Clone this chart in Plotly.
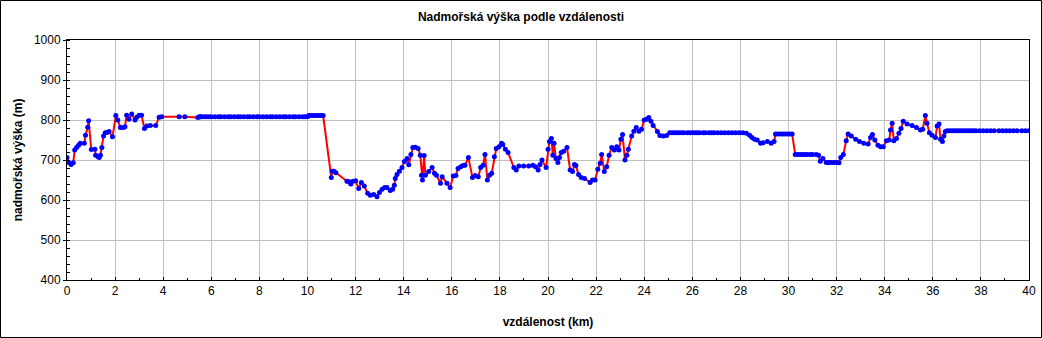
import plotly.graph_objects as go

# distance (km)
distance_km = [
    0.0, 0.07, 0.17, 0.26, 0.32, 0.40, 0.48, 0.55, 0.72, 0.77, 0.86, 0.90,
    1.01, 1.16, 1.19, 1.29, 1.34, 1.39, 1.45, 1.52, 1.59, 1.66, 1.75, 1.89,
    2.03, 2.11, 2.22, 2.34, 2.41, 2.48, 2.58, 2.69, 2.83, 2.90, 3.00, 3.10,
    3.22, 3.32, 3.46, 3.69, 3.83, 3.94, 4.66, 4.90, 5.44,
    5.50, 5.55, 5.60, 5.70, 5.80, 5.90, 6.00, 6.15, 6.30, 6.40, 6.55, 6.70,
    6.80, 6.95, 7.10, 7.20, 7.35, 7.50, 7.60, 7.75, 7.90, 8.00, 8.15, 8.30,
    8.45, 8.55, 8.70, 8.85, 9.00, 9.10, 9.25, 9.40, 9.50, 9.65, 9.80, 9.90,
    10.00, 10.05, 10.15, 10.25, 10.35, 10.45, 10.55, 10.65,
    10.99, 11.03, 11.10, 11.18, 11.64, 11.71, 11.80, 11.89, 12.00, 12.13,
    12.24, 12.36, 12.50, 12.61, 12.75, 12.89, 12.99, 13.10, 13.21, 13.30,
    13.44, 13.54, 13.61, 13.65, 13.72, 13.82, 13.93, 14.03, 14.14, 14.21,
    14.30, 14.38, 14.49, 14.60, 14.69, 14.74, 14.78, 14.85, 14.90, 15.04,
    15.18, 15.28, 15.36, 15.53, 15.60, 15.80, 15.93,
    16.06, 16.17, 16.26, 16.37, 16.47, 16.55, 16.69, 16.86, 16.97, 17.10,
    17.20, 17.30, 17.38, 17.48, 17.57, 17.66, 17.77, 17.85, 17.96, 18.07,
    18.12, 18.23, 18.34, 18.58, 18.68, 18.79, 18.99, 19.20, 19.37, 19.48,
    19.59, 19.67, 19.75, 19.92, 20.00, 20.06, 20.14, 20.20, 20.25, 20.33,
    20.41, 20.48, 20.55, 20.65, 20.79, 20.92, 21.02, 21.10, 21.16, 21.27,
    21.38, 21.52, 21.75, 21.85, 21.96, 22.07, 22.17, 22.23, 22.34, 22.44,
    22.54, 22.65, 22.76, 22.86, 22.95, 23.03, 23.10, 23.20, 23.28, 23.34,
    23.48, 23.57, 23.67, 23.78, 23.89, 24.00, 24.10, 24.19, 24.28, 24.37,
    24.55, 24.65, 24.79, 24.93, 25.06,
    25.15, 25.25, 25.35, 25.45, 25.55, 25.65, 25.80, 25.90, 26.00, 26.10,
    26.20, 26.30, 26.45, 26.55, 26.70, 26.80, 26.90, 27.05, 27.20, 27.35,
    27.50, 27.65, 27.80, 27.95, 28.10,
    28.25, 28.38, 28.48, 28.59, 28.70, 28.84, 28.94, 29.12, 29.28, 29.40,
    29.46, 29.55, 29.65, 29.75, 29.85, 29.95, 30.05, 30.15,
    30.28, 30.38, 30.48, 30.58, 30.68, 30.78, 30.90, 31.00, 31.15,
    31.25, 31.32, 31.43, 31.57, 31.65, 31.72, 31.80, 31.90, 32.00, 32.10,
    32.17, 32.28, 32.40, 32.48, 32.61, 32.79, 32.95, 33.13, 33.31, 33.41,
    33.49, 33.59, 33.72, 33.83, 33.94, 34.07, 34.19, 34.24, 34.31, 34.38,
    34.49, 34.59, 34.68, 34.77, 34.93, 35.14, 35.32, 35.49, 35.58, 35.69,
    35.76, 35.86, 35.97, 36.11, 36.18, 36.26, 36.32, 36.40, 36.46, 36.52,
    36.59, 36.70, 36.80, 36.90, 37.00, 37.10, 37.20, 37.30, 37.40, 37.50,
    37.60, 37.70, 37.80, 37.95, 38.10, 38.25, 38.40, 38.55, 38.75, 38.90,
    39.05, 39.20, 39.35, 39.50, 39.70, 39.85, 40.00,
]

# elevation (m)
elevation_m = [
    706, 694, 689, 693, 725, 731, 737, 742, 742, 762, 782, 798,
    726, 727, 712, 708, 706, 712, 731, 760, 768, 769, 771, 758,
    811, 800, 781, 781, 783, 812, 802, 815, 800, 807, 812, 812,
    779, 785, 786, 786, 807, 808, 808, 808, 806,
    808, 808, 808, 808, 808, 808, 808, 808, 808, 808, 808, 808,
    808, 808, 808, 808, 808, 808, 808, 808, 808, 808, 808, 808,
    808, 808, 808, 808, 808, 808, 808, 808, 808, 808, 808, 808,
    808, 811, 811, 811, 811, 811, 811, 811,
    656, 672, 672, 668, 647, 646, 640, 647, 648, 629,
    644, 635, 617, 612, 614, 608, 619, 627, 631, 631,
    624, 627, 637, 654, 664, 672, 681, 696, 704, 688,
    714, 731, 732, 729, 712, 662, 650, 711, 662, 671,
    681, 667, 662, 642, 658, 642, 631,
    660, 661, 679, 683, 686, 687, 706, 656, 661, 658,
    681, 687, 714, 650, 662, 667, 708, 729, 733, 742,
    739, 727, 719, 681, 675, 685, 685, 685, 687, 683,
    675, 689, 700, 681, 727, 746, 754, 712, 742, 704,
    694, 706, 719, 722, 731, 675, 671, 689, 686, 664,
    656, 654, 644, 650, 650, 677, 692, 714, 671, 683,
    712, 731, 725, 733, 725, 752, 764, 700, 712, 727,
    760, 772, 781, 772, 777, 800, 802, 806, 797, 786,
    771, 761, 760, 761, 768,
    768, 768, 768, 768, 768, 768, 768, 768, 768, 768,
    768, 768, 768, 768, 768, 768, 768, 768, 768, 768,
    768, 768, 768, 768, 768,
    767, 762, 756, 752, 750, 742, 743, 746, 742, 746,
    765, 765, 765, 765, 765, 765, 765, 765,
    714, 714, 714, 714, 714, 714, 714, 714, 714,
    712, 697, 704, 694, 694, 694, 694, 694, 694, 693,
    706, 714, 748, 765, 760, 752, 746, 742, 740, 756,
    764, 750, 737, 733, 733, 748, 750, 775, 792, 748,
    754, 767, 779, 797, 790, 786, 781, 775, 777, 811,
    792, 768, 762, 756, 785, 790, 752, 746, 760, 771,
    773, 773, 773, 773, 773, 773, 773, 773, 773, 773,
    773, 773, 773, 773, 773, 773, 773, 773, 773, 773,
    773, 773, 773, 773, 773, 773, 773,
]

x_ticks = [0, 2, 4, 6, 8, 10, 12, 14, 16, 18, 20, 22, 24, 26, 28, 30, 32, 34, 36, 38, 40]
y_ticks = [400, 500, 600, 700, 800, 900, 1000]

W, H = 1042, 338
ML, MR, MT, MB = 67, 13, 40, 58
PW, PH = W - ML - MR, H - MT - MB

fig = go.Figure()
fig.add_trace(go.Scatter(
    x=distance_km, y=elevation_m, mode="lines+markers",
    line=dict(color="#ff0000", width=2),
    marker=dict(color="#0000ff", size=5, symbol="circle"),
    showlegend=False, hoverinfo="x+y",
))

font = "Liberation Sans, Arial, sans-serif"
fig.update_layout(
    width=W, height=H,
    margin=dict(l=ML, r=MR, t=MT, b=MB, pad=0, autoexpand=False),
    paper_bgcolor="white", plot_bgcolor="white",
    font=dict(family=font, size=12, color="black"),
    title=dict(text="<b>Nadmořská výška podle vzdálenosti</b>",
               x=0.5, xref="container", xanchor="center",
               y=1 - 17 / H, yref="container", yanchor="middle",
               font=dict(size=12, family=font, color="black")),
)
fig.update_xaxes(
    range=[0, 40], tickvals=x_ticks, ticktext=[str(v) for v in x_ticks],
    showgrid=True, gridcolor="#c0c0c0", gridwidth=1,
    showline=True, linecolor="black", linewidth=1, mirror=True,
    ticks="inside", ticklen=3, tickcolor="black",
    minor=dict(dtick=1, ticks="inside", ticklen=2, tickcolor="black", showgrid=False),
    zeroline=False, automargin=False,
    tickfont=dict(size=12, family=font),
    title=dict(text="<b>vzdálenost (km)</b>", standoff=20, font=dict(size=12, family=font)),
)
fig.update_yaxes(
    range=[400, 1000], tickvals=y_ticks, ticktext=[str(v) for v in y_ticks],
    showgrid=True, gridcolor="#c0c0c0", gridwidth=1,
    showline=True, linecolor="black", linewidth=1, mirror=True,
    ticks="outside", ticklen=3, tickcolor="black",
    minor=dict(dtick=20, ticks="inside", ticklen=3, tickcolor="black", showgrid=False),
    zeroline=False, automargin=False,
    tickfont=dict(size=12, family=font),
    title=dict(text="<b>nadmořská výška (m)</b>", standoff=8, font=dict(size=12, family=font)),
)

# outer frame of the whole chart
fig.add_shape(type="rect", xref="paper", yref="paper",
              x0=(0.5 - ML) / PW, x1=(W - 0.5 - ML) / PW,
              y0=(MT + PH - (H - 0.5)) / PH, y1=(MT + PH - 0.5) / PH,
              line=dict(color="black", width=1), fillcolor="rgba(0,0,0,0)",
              layer="above")

fig.write_html("out.html")
